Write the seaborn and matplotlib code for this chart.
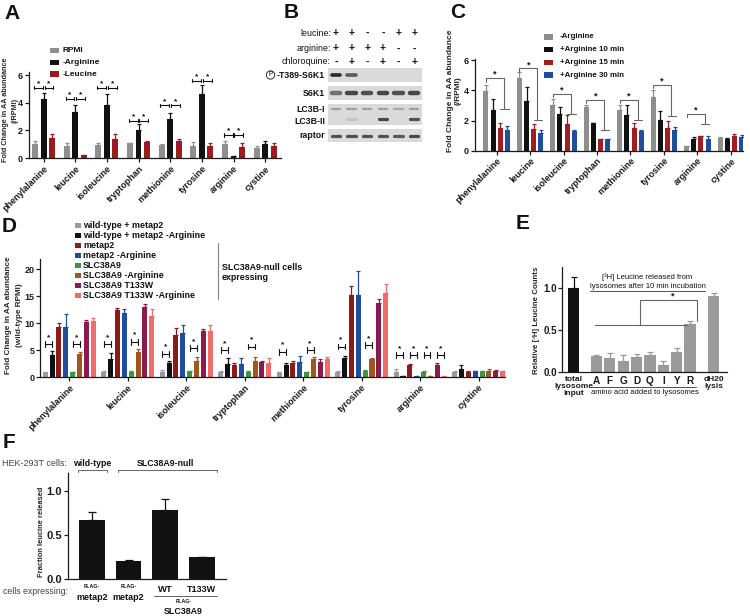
import numpy as np
import pandas as pd
import seaborn as sns
import matplotlib.pyplot as plt
import matplotlib.transforms as mtransforms
from matplotlib.container import BarContainer
from matplotlib.patches import Rectangle
from matplotlib.lines import Line2D

# ---------------- data ----------------
amino = ['phenylalanine', 'leucine', 'isoleucine', 'tryptophan',
         'methionine', 'tyrosine', 'arginine', 'cystine']

# panel A
a_conds = ['RPMI', '-Arginine', '-Leucine']
a_rpmi = [1.0, 0.85, 0.95, 1.05, 0.95, 0.9, 1.0, 0.75]
a_rpmi_err = [0.2, 0.25, 0.15, 0.05, 0.05, 0.25, 0.2, 0.14]
a_noarg = [4.3, 3.3, 3.8, 2.05, 2.8, 4.6, 0.12, 1.03]
a_noarg_err = [0.4, 0.55, 0.85, 0.4, 0.45, 0.7, 0.05, 0.22]
a_noleu = [1.45, 0.2, 1.4, 1.15, 1.25, 0.85, 0.8, 0.85]
a_noleu_err = [0.3, 0.05, 0.35, 0.08, 0.15, 0.25, 0.25, 0.25]
a_sig = [5.1, 4.3, 5.1, 2.7, 3.8, 5.6, 1.65, None]

# panel B (band intensities, 0..1)
b_leucine = ['+', '+', '-', '-', '+', '+']
b_arginine = ['+', '+', '+', '+', '-', '-']
b_chloroquine = ['-', '+', '-', '+', '-', '+']
b_p_s6k1 = [0.9, 0.65, 0, 0, 0, 0]
b_s6k1 = [0.55, 0.75, 0.7, 0.75, 0.7, 0.75]
b_lc3b_i = [0.3, 0.3, 0.3, 0.3, 0.25, 0.3]
b_lc3b_ii = [0, 0.1, 0, 0.75, 0, 0.7]
b_raptor = [0.7, 0.7, 0.7, 0.7, 0.65, 0.75]

# panel C
c_conds = ['-Arginine', '+Arginine 10 min', '+Arginine 15 min', '+Arginine 30 min']
c_minus = [3.95, 4.8, 3.0, 2.9, 2.7, 3.55, 0.28, 0.82]
c_minus_err = [0.4, 0.4, 0.4, 0.1, 0.3, 0.45, 0.03, 0.1]
c_10 = [2.7, 3.3, 2.4, 1.85, 2.35, 2.05, 0.8, 0.8]
c_10_err = [0.7, 0.95, 0.5, 0.0, 0.65, 0.6, 0.12, 0.07]
c_15 = [1.5, 1.45, 1.8, 0.78, 1.5, 1.5, 0.95, 1.0]
c_15_err = [0.35, 0.35, 0.55, 0.0, 0.35, 0.5, 0.03, 0.12]
c_30 = [1.4, 1.2, 1.3, 0.8, 1.3, 1.35, 0.8, 0.9]
c_30_err = [0.25, 0.15, 0.1, 0.0, 0.05, 0.2, 0.15, 0.15]
c_sig_hi = [4.8, 5.45, 3.75, 3.35, 3.35, 4.35, 2.45, None]
c_sig_lo = [2.75, 2.05, 2.4, 1.35, 2.05, 2.3, 1.8, None]

# panel D
d_conds = ['wild-type + metap2', 'wild-type + metap2 -Arginine', 'metap2',
           'metap2 -Arginine', 'SLC38A9', 'SLC38A9 -Arginine',
           'SLC38A9 T133W', 'SLC38A9 T133W -Arginine']
d_wt = [1.0, 1.0, 1.0, 1.0, 1.0, 1.0, 1.0, 1.0]
d_wt_err = [0.05, 0.1, 0.4, 0.1, 0.05, 0.1, 0.5, 0.1]
d_wt_arg = [4.2, 3.4, 2.6, 2.4, 2.3, 3.5, 0.2, 1.5]
d_wt_arg_err = [0.6, 1.1, 0.4, 1.1, 0.3, 0.4, 0.05, 0.7]
d_met = [9.3, 12.5, 7.8, 2.2, 2.7, 15.2, 2.3, 1.0]
d_met_err = [0.8, 0.3, 1.3, 0.4, 0.4, 1.8, 0.2, 0.2]
d_met_arg = [9.4, 12.0, 8.2, 2.5, 2.8, 15.2, 0.15, 1.1]
d_met_arg_err = [2.4, 0.6, 1.4, 1.0, 1.1, 4.5, 0.05, 0.1]
d_slc = [1.0, 1.0, 1.1, 1.0, 1.0, 1.2, 1.0, 1.1]
d_slc_err = [0.05, 0.1, 0.1, 0.1, 0.05, 0.1, 0.2, 0.1]
d_slc_arg = [4.4, 4.7, 3.0, 3.0, 3.3, 3.3, 0.2, 1.2]
d_slc_arg_err = [0.3, 0.6, 0.7, 0.8, 0.5, 0.3, 0.05, 0.3]
d_tw = [10.2, 13.0, 8.6, 2.8, 2.9, 13.7, 2.3, 1.2]
d_tw_err = [0.5, 0.5, 0.3, 0.2, 0.4, 0.8, 0.4, 0.1]
d_tw_arg = [10.4, 11.3, 8.5, 2.7, 3.3, 15.7, 0.2, 1.1]
d_tw_arg_err = [0.6, 1.3, 1.1, 0.9, 0.4, 1.5, 0.05, 0.1]
d_sig_wt = [6.2, 6.2, 4.4, 5.1, 4.75, 5.7, 4.1, None]
d_sig_slc = [6.2, 6.6, 5.4, 5.7, 5.1, 6.0, 4.1, None]
d_sig_arg_extra = 4.1

# panel E
e_labels = ['total\nlysosome\ninput', 'A', 'F', 'G', 'D', 'Q', 'I', 'Y', 'R', 'dH20\nlysis']
e_vals = [1.0, 0.19, 0.17, 0.13, 0.18, 0.2, 0.08, 0.24, 0.57, 0.91]
e_err = [0.14, 0.01, 0.05, 0.07, 0.03, 0.04, 0.05, 0.04, 0.04, 0.04]

# panel F
f_groups = ['wt FLAG-metap2', 'null FLAG-metap2', 'null SLC38A9 WT', 'null SLC38A9 T133W']
f_vals = [0.67, 0.2, 0.78, 0.245]
f_err = [0.085, 0.015, 0.125, 0.0]

# ---------------- style ----------------
sns.set_theme(style='ticks')
plt.rcParams['font.family'] = ['Liberation Sans', 'DejaVu Sans']
plt.rcParams['font.weight'] = 'bold'
plt.rcParams['axes.linewidth'] = 0.9
plt.rcParams['axes.edgecolor'] = '#1a1a1a'
plt.rcParams['xtick.color'] = '#1a1a1a'
plt.rcParams['ytick.color'] = '#1a1a1a'
plt.rcParams['text.color'] = '#111111'

W, H = 750, 616
fig = plt.figure(figsize=(W / 100, H / 100), dpi=100)
pix = mtransforms.Affine2D().scale(1 / W, -1 / H).translate(0, 1) + fig.transFigure


def px_axes(left, top, right, bottom):
    return fig.add_axes([left / W, 1 - bottom / H, (right - left) / W, (bottom - top) / H])


def ptext(x, y, s, **kw):
    kw.setdefault('va', 'center')
    return fig.text(x, y, s, transform=pix, **kw)


def pline(xs, ys, **kw):
    fig.add_artist(Line2D(xs, ys, transform=pix, **kw))


def long_df(values, conds):
    rows = []
    for cond, vals in zip(conds, values):
        for aa, v in zip(amino, vals):
            rows.append({'aa': aa, 'cond': cond, 'val': v})
    return pd.DataFrame(rows)


def bars(ax):
    return [c for c in ax.containers if isinstance(c, BarContainer)]


def bar_centers(ax):
    return [[p.get_x() + p.get_width() / 2 for p in c] for c in bars(ax)]


def add_err(ax, errs, colors, capsize=1.5):
    for cont, err, col in zip(bars(ax), errs, colors):
        xs = [p.get_x() + p.get_width() / 2 for p in cont]
        ys = [p.get_height() for p in cont]
        ax.errorbar(xs, ys, yerr=[np.zeros(len(err)), err], fmt='none', ecolor=col,
                    elinewidth=0.9, capsize=capsize, capthick=0.9, zorder=1)


def bracket(ax, x1, x2, y, cap, star_dy, color='#111111'):
    ax.plot([x1, x2], [y, y], color=color, lw=0.8, clip_on=False)
    for x in (x1, x2):
        ax.plot([x, x], [y - cap, y + cap], color=color, lw=0.8, clip_on=False)
    ax.text((x1 + x2) / 2, y + star_dy, '*', ha='center', va='center', fontsize=6, color=color)


def style_axes(ax, ylim, xlim, yticks, ylabelsize=6.5, pad=1.5):
    sns.despine(ax=ax)
    ax.set_ylim(*ylim)
    ax.set_xlim(*xlim)
    ax.set_yticks(yticks)
    ax.set_xlabel('')
    ax.tick_params(direction='out', length=3, width=0.9, pad=pad, labelsize=ylabelsize)


def rot_labels(ax, size=6.5):
    plt.setp(ax.get_xticklabels(), rotation=45, ha='right', rotation_mode='anchor',
             fontsize=size, fontweight='bold')


def legend_rows(x, y, dy, labels, colors, fs, sw, sh, gap):
    for i, (lab, col) in enumerate(zip(labels, colors)):
        yy = y + i * dy
        fig.add_artist(Rectangle((x, yy - sh / 2), sw, sh, transform=pix, facecolor=col, lw=0))
        ptext(x + sw + gap, yy, lab, fontsize=fs, fontweight='bold')


def panel_letter(x, y, s):
    ptext(x, y, s, fontsize=15, fontweight='bold', va='top')


# ---------------- panel A ----------------
axA = px_axes(29, 72.3, 281, 158)
a_colors = ['#8f8f8f', '#111111', '#9b1b1f']
sns.barplot(data=long_df([a_rpmi, a_noarg, a_noleu], a_conds), x='aa', y='val', hue='cond',
            palette=a_colors, errorbar=None, width=0.8, gap=0.3, saturation=1, linewidth=0,
            legend=False, ax=axA)
add_err(axA, [a_rpmi_err, a_noarg_err, a_noleu_err], a_colors)
style_axes(axA, (0, 6.2), (-0.46, 7.5), [0, 2, 4, 6])
rot_labels(axA)
axA.set_ylabel('Fold Change in AA abundance\n(/RPMI)', fontsize=5.2, fontweight='bold', linespacing=1.5)
axA.yaxis.set_label_coords(18.5, 110, transform=pix)
cA = bar_centers(axA)
for i, h in enumerate(a_sig):
    if h is not None:
        bracket(axA, cA[0][i] - 0.04, cA[1][i] - 0.03, h, 0.13, 0.3)
        bracket(axA, cA[1][i] + 0.03, cA[2][i] + 0.04, h, 0.13, 0.3)
legend_rows(50, 50.5, 11.8, a_conds, a_colors, 6, 9, 5.5, 3.3)
panel_letter(4, 4, 'A')

# ---------------- panel B ----------------
lane_idx = np.arange(1, 7)
strips = [(68, 82, [(0.5, b_p_s6k1, 2.6)]),
          (86, 100, [(0.5, b_s6k1, 3.2)]),
          (104, 125, [(0.78, b_lc3b_i, 1.6), (0.3, b_lc3b_ii, 2.3)]),
          (129, 142, [(0.5, b_raptor, 2.3)])]
blot_axes = []
for top, bottom, bands in strips:
    bx = px_axes(328, top, 422, bottom)
    bx.set_facecolor('#dadada')
    bx.set_xlim(0.5, 6.5)
    bx.set_ylim(0, 1)
    bx.set_xticks([])
    bx.set_yticks([])
    for s in bx.spines.values():
        s.set_visible(False)
    for yb, inten, lw in bands:
        for x, v in zip(lane_idx, inten):
            if v > 0:
                bx.plot([x - 0.27, x + 0.27], [yb, yb], color='#151515', alpha=min(1, v),
                        lw=lw, solid_capstyle='round')
    blot_axes.append(bx)
hdr = mtransforms.blended_transform_factory(blot_axes[0].transData, pix)
for yrow, name, signs in [(33, 'leucine:', b_leucine), (48.5, 'arginine:', b_arginine),
                          (62, 'chloroquine:', b_chloroquine)]:
    ptext(331, yrow, name, ha='right', fontsize=6.4, fontweight='normal')
    for x, s in zip(lane_idx, signs):
        fig.text(x, yrow, s, transform=hdr, ha='center', va='center', fontsize=7.5, fontweight='bold')
ptext(325, 75, '-T389-S6K1', ha='right', fontsize=6.3)
ptext(270.5, 75, 'P', ha='center', fontsize=4.8, fontweight='normal',
      bbox=dict(boxstyle='circle,pad=0.1', fc='none', ec='#111111', lw=0.6))
ptext(325, 93, 'S6K1', ha='right', fontsize=6.3)
ptext(325, 109, 'LC3B-I', ha='right', fontsize=6.3)
ptext(325, 121, 'LC3B-II', ha='right', fontsize=6.3)
ptext(325, 136, 'raptor', ha='right', fontsize=6.3)
panel_letter(284, 3, 'B')

# ---------------- panel C ----------------
axC = px_axes(474.5, 58.6, 742.6, 150.7)
c_colors = ['#8e8e8e', '#111111', '#a11d21', '#1f4e9c']
sns.barplot(data=long_df([c_minus, c_10, c_15, c_30], c_conds), x='aa', y='val', hue='cond',
            palette=c_colors, errorbar=None, width=0.85, gap=0.3, saturation=1, linewidth=0,
            legend=False, ax=axC)
add_err(axC, [c_minus_err, c_10_err, c_15_err, c_30_err], c_colors)
style_axes(axC, (0, 6.1), (-0.66, 7.35), [0, 2, 4, 6], pad=1)
rot_labels(axC)
axC.set_ylabel('Fold Change in AA abundance\n(/RPMI)', fontsize=6.0, fontweight='bold', linespacing=1.3)
axC.yaxis.set_label_coords(462, 91, transform=pix)
cC = bar_centers(axC)
br_col = '#666666'
for i, (hi, lo) in enumerate(zip(c_sig_hi, c_sig_lo)):
    if hi is None:
        continue
    xg, xr, xb = cC[0][i], cC[2][i], cC[3][i]
    xm = (xr + xb) / 2
    axC.plot([xg, xg, xm, xm], [hi - 0.22, hi, hi, lo], color=br_col, lw=0.8, clip_on=False)
    axC.plot([xr, xb + 0.04], [lo, lo], color=br_col, lw=0.8, clip_on=False)
    axC.text((xg + xm) / 2, hi + 0.25, '*', ha='center', va='center', fontsize=6.5, color='#111111')
legend_rows(544, 37, 12.7, c_conds, c_colors, 5.7, 9, 5.5, 7)
panel_letter(450, 3, 'C')

# ---------------- panel D ----------------
axD = px_axes(40, 258.5, 505, 377.3)
d_colors = ['#9a9a9a', '#111111', '#8b1a1a', '#1f4e9c', '#3e943f', '#a0561d', '#8c1a4c', '#f26b6b']
d_vals = [d_wt, d_wt_arg, d_met, d_met_arg, d_slc, d_slc_arg, d_tw, d_tw_arg]
d_errs = [d_wt_err, d_wt_arg_err, d_met_err, d_met_arg_err, d_slc_err, d_slc_arg_err,
          d_tw_err, d_tw_arg_err]
sns.barplot(data=long_df(d_vals, d_conds), x='aa', y='val', hue='cond', palette=d_colors,
            errorbar=None, width=0.94, gap=0.27, saturation=1, linewidth=0, legend=False, ax=axD)
add_err(axD, d_errs, d_colors, capsize=1.3)
style_axes(axD, (0, 22), (-0.5, 7.45), [0, 5, 10, 15, 20], pad=1)
rot_labels(axD)
axD.set_ylabel('Fold Change in AA abundance\n(wild-type RPMI)', fontsize=5.9, fontweight='bold',
               linespacing=1.8)
axD.yaxis.set_label_coords(23.5, 315, transform=pix)
cD = bar_centers(axD)
for i in range(8):
    if d_sig_wt[i] is not None:
        bracket(axD, cD[0][i], cD[1][i], d_sig_wt[i], 0.55, 1.2)
    if d_sig_slc[i] is not None:
        bracket(axD, cD[4][i], cD[5][i], d_sig_slc[i], 0.55, 1.2)
    if amino[i] == 'arginine':
        bracket(axD, cD[2][i], cD[3][i], d_sig_arg_extra, 0.55, 1.2)
        bracket(axD, cD[6][i], cD[7][i], d_sig_arg_extra, 0.55, 1.2)
legend_rows(75, 225, 10.1, d_conds, d_colors, 6.4, 5.5, 5, 2.5)
pline([218, 218], [243, 299], color='#8a8a8a', lw=0.9)
ptext(222, 267, 'SLC38A9-null cells', ha='left', fontsize=6.4)
ptext(222, 277.5, 'expressing', ha='left', fontsize=6.4)
panel_letter(2, 217, 'D')

# ---------------- panel E ----------------
axE = px_axes(562.3, 266.7, 726.7, 371.7)
n_aa = len(e_labels) - 2
e_pos = np.concatenate([[0.0], np.arange(n_aa) + 1.7, [n_aa + 0.7 + 1.75]])
e_colors = dict(zip(e_labels, ['#111111'] + ['#9a9a9a'] * (len(e_labels) - 1)))
sns.barplot(x=e_pos, y=e_vals, hue=e_labels, palette=e_colors, native_scale=True, dodge=False,
            errorbar=None, width=0.84, saturation=1, linewidth=0, legend=False, ax=axE)
add_err(axE, [[e] for e in e_err], list(e_colors.values()), capsize=2.2)
style_axes(axE, (0, 1.26), (-0.84, 11.43), [0, 0.5, 1.0], ylabelsize=7.0, pad=1)
axE.yaxis.set_major_formatter(plt.FormatStrFormatter('%.1f'))
axE.set_xticks(e_pos)
axE.set_xticklabels(e_labels, fontsize=7.2, fontweight='bold', linespacing=1.0)
for lab in axE.get_xticklabels():
    if '\n' in lab.get_text():
        lab.set_fontsize(6.0)
axE.tick_params(axis='x', length=0, pad=3)
axE.set_ylabel('Relative [³H] Leucine Counts', fontsize=5.7, fontweight='bold')
axE.yaxis.set_label_coords(540, 320, transform=pix)
# significance annotation
i_a, i_y, i_r = 1, n_aa - 1, n_aa
x_left, x_right = e_pos[i_a] - 0.1, e_pos[i_y] + 0.75
x_mid = (e_pos[i_a] + e_pos[i_y]) / 2 + 0.25
x_r = e_pos[i_r] + 0.55
y_low, y_top = 0.555, 0.86
y_r = e_vals[i_r] + e_err[i_r] + 0.0
axE.plot([x_left, x_right], [y_low, y_low], color=br_col, lw=0.8)
axE.plot([x_mid, x_mid, x_r, x_r], [y_low, y_top, y_top, y_r], color=br_col, lw=0.8)
axE.text((x_mid + x_r) / 2 + 0.3, y_top + 0.05, '*', ha='center', va='center', fontsize=6.5)
ptext(647.5, 277, '[³H] Leucine released from', ha='center', fontsize=5.5, fontweight='normal')
ptext(647.5, 286, 'lysosomes after 10 min incubation', ha='center', fontsize=5.5, fontweight='normal')
pline([590, 705], [291.3, 291.3], color='#333333', lw=0.6)
ebl = mtransforms.blended_transform_factory(axE.transData, pix)
fig.add_artist(Line2D([e_pos[i_a] - 0.45, e_pos[i_r] + 0.45], [386.7, 386.7], transform=ebl,
                      color='#333333', lw=0.6))
fig.text((e_pos[i_a] + e_pos[i_r]) / 2 + 0.15, 393, 'amino acid added to lysosomes', transform=ebl,
         ha='center', va='center', fontsize=5.5, fontweight='normal')
panel_letter(516, 214, 'E')

# ---------------- panel F ----------------
axF = px_axes(68.3, 473, 226.4, 579)
sns.barplot(x=f_groups, y=f_vals, color='#111111', errorbar=None, width=0.7, saturation=1,
            linewidth=0, ax=axF)
add_err(axF, [f_err], ['#111111'], capsize=3)
style_axes(axF, (0, 1.2), (-0.65, 3.67), [0, 0.5, 1.0], ylabelsize=8)
axF.yaxis.set_major_formatter(plt.FormatStrFormatter('%.1f'))
axF.set_xticks([])
axF.set_ylabel('Fraction leucine released', fontsize=5.4, fontweight='bold')
axF.yaxis.set_label_coords(45, 532, transform=pix)
cF = bar_centers(axF)[0]
fbl = mtransforms.blended_transform_factory(axF.transData, pix)


def ftext(x, y, s, **kw):
    kw.setdefault('ha', 'center')
    kw.setdefault('va', 'center')
    return fig.text(x, y, s, transform=fbl, **kw)


def fline(xs, ys, **kw):
    fig.add_artist(Line2D(xs, ys, transform=fbl, **kw))


ptext(2, 463, 'HEK-293T cells:', ha='left', fontsize=6.5, fontweight='normal', color='#444444')
ftext(cF[0], 463, 'wild-type', fontsize=6.3)
ftext((cF[1] + cF[3]) / 2, 463, 'SLC38A9-null', fontsize=6.3)
fline([cF[0] - 0.38, cF[0] - 0.38, cF[0] + 0.4, cF[0] + 0.4], [471.5, 469.5, 469.5, 471.5],
      color='#666666', lw=0.7)
fline([cF[1] - 0.28, cF[1] - 0.28, cF[3] + 0.4, cF[3] + 0.4], [471.5, 469.5, 469.5, 471.5],
      color='#666666', lw=0.7)
ptext(3, 592, 'cells expressing:', ha='left', fontsize=6.3, fontweight='normal', color='#444444')
for x in cF[:2]:
    ftext(x, 587, 'FLAG-', fontsize=3.8)
    ftext(x, 597, 'metap2', fontsize=6.5)
ftext(cF[2], 590, 'WT', fontsize=6.8)
ftext(cF[3], 590, 'T133W', fontsize=6.5)
fline([cF[2] - 0.3, cF[3] + 0.4], [595.5, 595.5], color='#444444', lw=0.6)
ftext((cF[2] + cF[3]) / 2, 601.5, 'FLAG-', fontsize=3.8)
ftext((cF[2] + cF[3]) / 2, 611.5, 'SLC38A9', fontsize=6.4)
panel_letter(3, 433, 'F')

fig.savefig('out.png', dpi=100, facecolor='white')
